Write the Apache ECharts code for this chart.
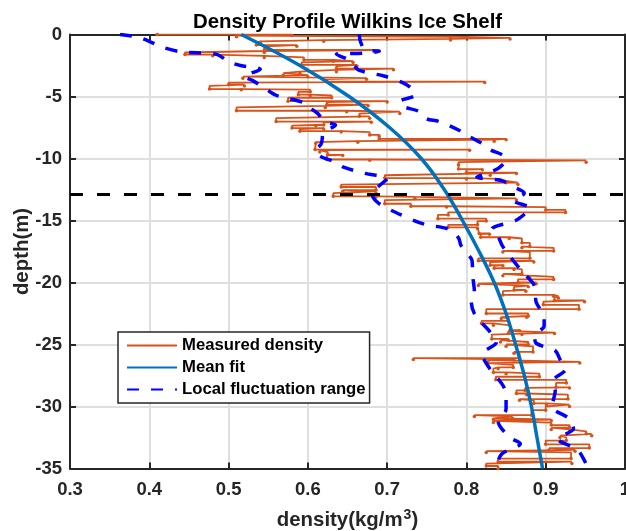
<!DOCTYPE html>
<html><head><meta charset="utf-8">
<script src="https://cdn.jsdelivr.net/npm/echarts@6/dist/echarts.min.js"></script>
<style>html,body{margin:0;padding:0;background:#fff}#c{width:626px;height:531px}</style>
</head><body><div id="c"></div>
<script>
// [density, depth (m below surface)]
const measured = [
[0.41,0.00],[0.58,0.08],[0.51,0.18],[0.78,0.28],[0.855,0.36],[0.78,0.45],[0.62,0.55],[0.54,0.65],[0.535,0.85],[0.586,0.95],
[0.545,1.25],[0.69,1.33],[0.545,1.45],[0.445,1.62],[0.48,1.72],[0.545,1.85],[0.595,2.05],[0.632,2.15],[0.657,2.25],[0.592,2.45],
[0.662,2.55],[0.636,2.75],[0.708,2.85],[0.636,3.0],[0.59,3.12],[0.569,3.28],[0.60,3.4],[0.518,3.52],[0.674,3.6],[0.624,3.8],
[0.823,3.88],[0.5,4.05],[0.52,4.15],[0.476,4.4],[0.516,4.45],[0.603,4.62],[0.588,4.85],[0.603,4.92],[0.63,5.1],[0.575,5.38],
[0.70,5.45],[0.624,5.65],[0.676,5.75],[0.622,5.88],[0.51,6.15],[0.649,6.22],[0.716,6.38],[0.665,6.6],[0.678,6.75],[0.56,7.02],
[0.68,7.08],[0.62,7.3],[0.61,7.35],[0.58,7.55],[0.62,7.62],[0.59,7.8],[0.642,7.87],[0.678,8.1],[0.69,8.2],[0.69,8.42],
[0.85,8.48],[0.835,8.6],[0.663,8.68],[0.61,8.78],[0.609,9.28],[0.804,9.33],[0.615,9.48],[0.625,9.7],[0.644,9.75],[0.624,10.08],
[0.678,10.15],[0.951,10.3],[0.79,10.5],[0.79,10.85],[0.82,10.9],[0.8,11.15],[0.863,11.2],[0.83,11.35],[0.697,11.58],[0.8,11.65],
[0.842,11.8],[0.85,11.95],[0.865,12.1],[0.642,12.3],[0.686,12.55],[0.644,12.65],[0.686,12.8],[0.632,13.05],[0.686,13.1],[0.735,13.22],
[0.863,13.35],[0.697,13.65],[0.73,13.85],[0.775,13.92],[0.9,14.15],[0.925,14.35],[0.777,14.55],[0.764,14.85],[0.825,15.05],[0.814,15.35],
[0.777,15.55],[0.814,15.65],[0.816,16.05],[0.829,16.1],[0.818,16.35],[0.854,16.45],[0.87,16.8],[0.88,17.1],[0.87,17.2],[0.91,17.45],
[0.846,17.55],[0.88,18.05],[0.815,18.25],[0.885,18.35],[0.83,18.6],[0.846,18.65],[0.835,18.85],[0.86,18.95],[0.87,19.3],[0.846,19.45],
[0.88,19.55],[0.91,19.75],[0.865,20.0],[0.888,20.1],[0.815,20.25],[0.878,20.35],[0.86,20.6],[0.875,20.7],[0.846,21.0],[0.91,21.1],
[0.916,21.25],[0.911,21.45],[0.949,21.55],[0.897,21.8],[0.942,22.15],[0.825,22.5],[0.878,22.7],[0.876,22.8],[0.844,22.9],[0.853,23.1],
[0.819,23.3],[0.834,23.45],[0.855,23.85],[0.867,23.9],[0.853,24.05],[0.911,24.12],[0.87,24.2],[0.832,24.55],[0.853,24.65],[0.843,24.8],
[0.878,25.0],[0.85,25.15],[0.884,25.6],[0.86,25.7],[0.867,26.1],[0.733,26.2],[0.86,26.25],[0.827,26.4],[0.943,26.5],[0.827,26.65],
[0.859,26.85],[0.84,26.95],[0.834,27.25],[0.85,27.35],[0.892,27.6],[0.837,27.85],[0.926,28.1],[0.913,28.45],[0.93,28.5],[0.874,28.7],
[0.863,28.95],[0.876,29.05],[0.928,29.4],[0.867,29.5],[0.885,29.75],[0.901,29.85],[0.93,30.0],[0.9,30.3],[0.882,30.7],[0.81,30.8],
[0.858,30.95],[0.834,31.05],[0.907,31.15],[0.834,31.3],[0.907,31.5],[0.93,31.7],[0.907,31.85],[0.93,32.0],[0.951,32.2],[0.958,32.35],
[0.918,32.5],[0.926,32.75],[0.9,33.05],[0.955,33.35],[0.904,33.5],[0.937,33.6],[0.825,33.7],[0.932,34.2],[0.84,34.45],[0.933,34.6],
[0.825,34.8],[0.84,35.0]
];
const meanFit = [
[0.516,0],[0.590,2.5],[0.652,5],[0.703,7.5],[0.743,10],[0.772,12.5],[0.795,15],[0.816,17.5],
[0.835,20],[0.850,22.5],[0.862,25],[0.873,27.5],[0.882,30],[0.889,32.5],[0.896,35]
];
const rangeLow = [
[0.363,0],[0.385,0.2],[0.405,0.7],[0.415,1.0],[0.44,1.4],[0.485,1.6],[0.50,2.2],[0.515,2.5],[0.54,2.8],[0.52,3.4],
[0.53,3.7],[0.545,4.3],[0.56,4.9],[0.575,5.15],[0.595,5.5],[0.60,5.8],[0.613,6.4],[0.62,7.0],[0.635,7.3],[0.62,7.9],
[0.617,8.8],[0.61,9.4],[0.615,9.8],[0.635,10.3],[0.645,10.7],[0.672,11.2],[0.70,11.6],[0.69,12.2],[0.68,12.8],[0.689,13.6],
[0.716,14.5],[0.747,15.3],[0.778,15.7],[0.79,16.4],[0.793,17.0],[0.80,17.6],[0.807,18.2],[0.808,19.5],[0.81,20.7],[0.806,21.5],
[0.81,22.5],[0.82,23.3],[0.83,24.0],[0.838,24.8],[0.82,25.8],[0.83,27.0],[0.845,28.2],[0.85,29.0],[0.85,30.2],[0.84,31.2],
[0.855,32.5],[0.868,33.0],[0.845,33.8],[0.84,34.5],[0.845,35]
];
const rangeHigh = [
[0.665,0],[0.666,0.5],[0.672,1.2],[0.69,1.35],[0.67,1.5],[0.636,1.6],[0.65,2.0],[0.657,2.4],[0.665,2.9],[0.696,3.35],
[0.72,3.9],[0.73,4.3],[0.735,4.9],[0.716,5.4],[0.72,5.8],[0.74,6.2],[0.75,6.8],[0.765,7.0],[0.79,7.7],[0.80,8.1],
[0.82,8.8],[0.83,9.3],[0.845,9.7],[0.85,10.1],[0.84,10.8],[0.83,11.1],[0.813,11.5],[0.845,11.8],[0.86,12.3],[0.873,12.8],
[0.86,13.4],[0.88,14.0],[0.875,14.4],[0.862,15.0],[0.832,15.7],[0.84,16.3],[0.845,17.0],[0.855,17.9],[0.87,19.1],[0.886,20.3],
[0.888,21.6],[0.898,22.8],[0.898,23.5],[0.886,24.3],[0.888,24.9],[0.912,25.5],[0.918,26.2],[0.925,27.0],[0.91,27.9],[0.912,28.7],
[0.908,30.0],[0.93,31.0],[0.935,31.8],[0.915,32.6],[0.94,33.5],[0.95,34.5],[0.953,35]
];
const thresholdDepth = 12.9;
const xRange = [0.3, 1.0];
const yRange = [-35, 0];
const seriesNames = ['Measured density', 'Mean fit', 'Local fluctuation range'];

const toXY = arr => arr.map(p => [p[0], -p[1]]);
const FONT = "'Liberation Sans', Arial, sans-serif";
const AX = '#262626';

const chart = echarts.init(document.getElementById('c'), null, {renderer: 'canvas'});
const baseX = {
  type: 'value', min: xRange[0], max: xRange[1], interval: 0.1,
  axisLine: {show: true, onZero: false, lineStyle: {color: AX, width: 2}},
  axisTick: {show: true, inside: true, length: 6, lineStyle: {color: AX, width: 2}}
};
const baseY = {
  type: 'value', min: yRange[0], max: yRange[1], interval: 5,
  axisLine: {show: true, onZero: false, lineStyle: {color: AX, width: 2}},
  axisTick: {show: true, inside: true, length: 6, lineStyle: {color: AX, width: 2}}
};
chart.setOption({
  animation: false,
  backgroundColor: '#fff',
  title: {
    text: 'Density Profile Wilkins Ice Shelf', left: 347.5, textAlign: 'center', top: 12, padding: 0,
    textStyle: {fontFamily: FONT, fontSize: 20.4, fontWeight: 'bold', color: '#000'}
  },
  grid: {left: 70, right: 1, top: 34.5, bottom: 62.5, containLabel: false, outerBoundsMode: 'none'},
  legend: {
    orient: 'vertical', left: 118, top: 332, padding: [5, 4, 5, 8], itemGap: 5,
    itemWidth: 50, itemHeight: 14, itemStyle: {opacity: 0},
    backgroundColor: '#fff', borderColor: AX, borderWidth: 1.5, borderRadius: 0,
    textStyle: {fontFamily: FONT, fontSize: 16.7, fontWeight: 'bold', color: '#000', lineHeight: 17},
    data: seriesNames
  },
  xAxis: [
    Object.assign({}, baseX, {
      position: 'bottom',
      name: 'density(kg/m{sup|3})', nameLocation: 'middle', nameGap: 40, nameMoveOverlap: false,
      nameTextStyle: {fontFamily: FONT, fontSize: 20.4, fontWeight: 'bold', color: AX,
        rich: {sup: {fontFamily: FONT, fontSize: 14, fontWeight: 'bold', color: AX, verticalAlign: 'bottom', padding: [0, 0, 9, 1]}}},
      axisLabel: {show: true, margin: 12, fontFamily: FONT, fontSize: 18.5, fontWeight: 'bold', color: AX},
      splitLine: {show: true, lineStyle: {color: '#dfdfdf', width: 2}}
    }),
    Object.assign({}, baseX, {position: 'top', axisLabel: {show: false}, splitLine: {show: false}})
  ],
  yAxis: [
    Object.assign({}, baseY, {
      position: 'left',
      name: 'depth(m)', nameLocation: 'middle', nameGap: 38, nameRotate: 90, nameMoveOverlap: false,
      nameTextStyle: {fontFamily: FONT, fontSize: 20.4, fontWeight: 'bold', color: AX},
      axisLabel: {show: true, margin: 8, fontFamily: FONT, fontSize: 18.5, fontWeight: 'bold', color: AX},
      splitLine: {show: true, lineStyle: {color: '#dfdfdf', width: 2}}
    }),
    Object.assign({}, baseY, {position: 'right', axisLabel: {show: false}, splitLine: {show: false}})
  ],
  series: [
    {
      name: seriesNames[0], type: 'line', data: toXY(measured), step: 'end',
      symbol: 'circle', symbolSize: 3.5, showSymbol: true,
      itemStyle: {color: '#D95319'}, lineStyle: {color: '#D95319', width: 1.8}, z: 2
    },
    {
      name: seriesNames[1], type: 'line', data: toXY(meanFit), smooth: 0.4,
      symbol: 'none', itemStyle: {color: '#0072BD'}, lineStyle: {color: '#0072BD', width: 3.5}, z: 3
    },
    {
      name: seriesNames[2], type: 'line', data: toXY(rangeLow), smooth: 0.3,
      symbol: 'none', itemStyle: {color: '#0000FF'}, lineStyle: {color: '#0000FF', width: 3.5, type: [12, 12]}, z: 4
    },
    {
      name: seriesNames[2], type: 'line', data: toXY(rangeHigh), smooth: 0.3,
      symbol: 'none', itemStyle: {color: '#0000FF'}, lineStyle: {color: '#0000FF', width: 3.5, type: [12, 12]}, z: 4
    },
    {
      name: 'threshold', type: 'line', data: [[xRange[0], -thresholdDepth], [xRange[1], -thresholdDepth]],
      symbol: 'none', lineStyle: {color: '#000', width: 3, type: [13, 14]}, z: 5, silent: true
    }
  ]
});
</script>
</body></html>
